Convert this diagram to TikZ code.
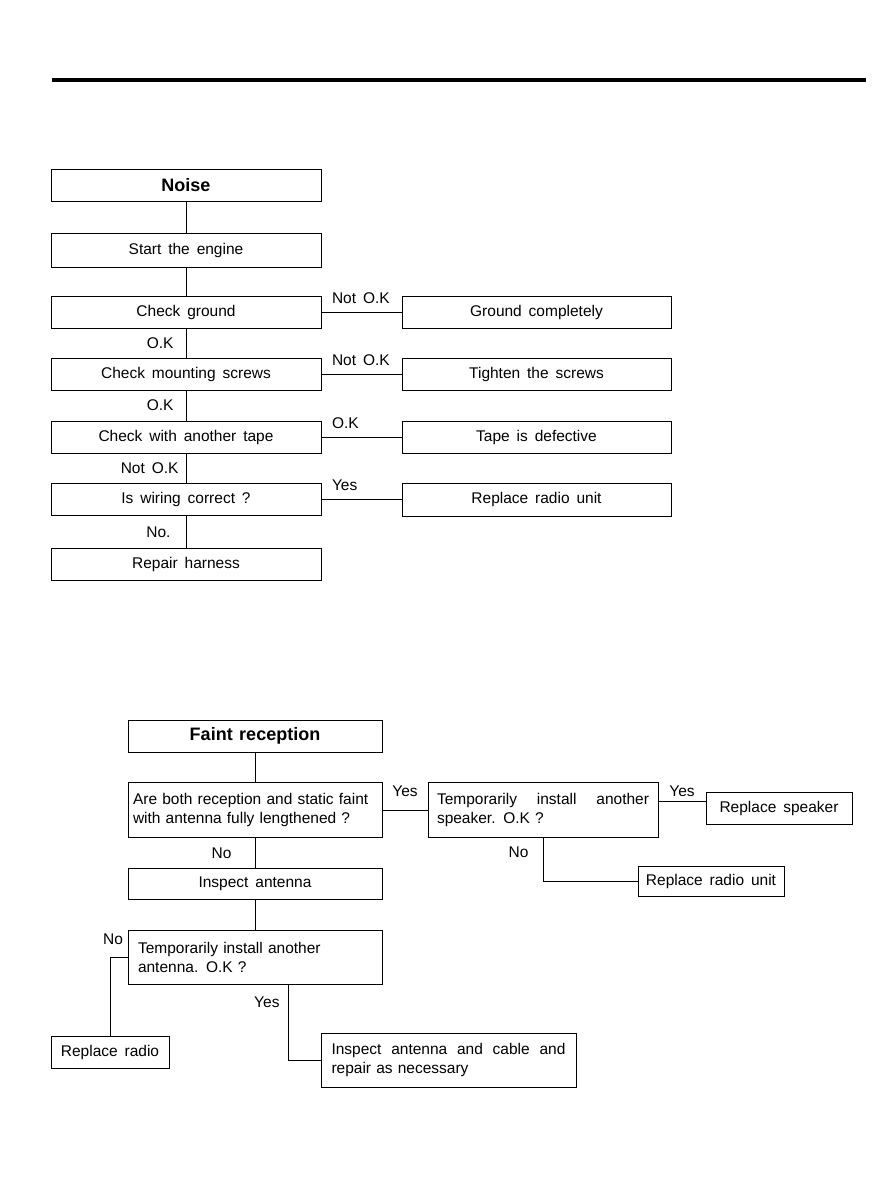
\documentclass[tikz,border=0pt]{standalone}
\usepackage{fontspec}
\setmainfont{Liberation Sans}[WordSpace=1.6]
\newfontfamily\titlefont{Liberation Sans}[WordSpace=1.3]
\usetikzlibrary{positioning}

\begin{document}
\begin{tikzpicture}[x=1pt, y=-1pt,
  every node/.style={font=\fontsize{15.5}{19}\selectfont},
  box/.style  ={draw, line width=1pt, inner sep=0pt, minimum height=32pt},
  nbox/.style ={box, minimum width=270pt},
  rbox/.style ={box, minimum width=269pt},
  fbox/.style ={box, minimum width=254pt},
  title/.style={font=\titlefont\bfseries\fontsize{18}{22}\selectfont},
  ln/.style   ={line width=1pt},
  lbl/.style  ={inner sep=2pt},
  hl/.style   ={lbl, pos=0, anchor=south west, xshift=8pt, yshift=6pt},
]
\useasboundingbox (0,0) rectangle (878,1200);

%% ─── Header rule ─────────────────────────────────────────────────────────────
\draw[line width=4pt] (52,80) -- (866,80);

%% ─── Noise ───────────────────────────────────────────────────────────────────
\node[nbox, title] (noise) at (186,185.5) {Noise};
\node[nbox, minimum height=34pt] (engine) at (186,250) {Start the engine};
\node[nbox] (ground)  at (186,312) {Check ground};
\node[nbox] (screws)  at (186,374) {Check mounting screws};
\node[nbox] (tape)    at (186,437) {Check with another tape};
\node[nbox] (wiring)  at (186,499.5) {Is wiring correct ?};
\node[nbox] (harness) at (186,564) {Repair harness};

% right-hand remedies
\node[rbox] (groundfix) at (536.5,312)   {Ground completely};
\node[rbox] (tighten)   at (536.5,374)   {Tighten the screws};
\node[rbox] (tapebad)   at (536.5,437)   {Tape is defective};
\node[rbox, minimum height=33pt] (unitA) at (536.5,499.5) {Replace radio unit};

\draw[ln] (noise) -- (engine);
\draw[ln] (engine) -- (ground);
\draw[ln] (ground) -- (screws) node[lbl, midway, left=10pt] (okA) {O.K};
\draw[ln] (screws) -- (tape)   node[lbl, midway, left=10pt] (okB) {O.K};
\draw[ln] (tape) -- (wiring)   node[lbl, midway, left=5pt]  (nokC) {Not O.K};
\draw[ln] (wiring) -- (harness) node[lbl, midway, left=13pt] (noD) {No.};

\draw[ln] (ground) -- (groundfix) node[hl] (nokA) {Not O.K};
\draw[ln] (screws) -- (tighten)   node[hl] (nokB) {Not O.K};
\draw[ln] (tape) -- (tapebad)     node[hl] (okC)  {O.K};
\draw[ln] (wiring) -- (unitA)     node[hl] (yesD) {Yes};

%% ─── Faint reception ─────────────────────────────────────────────────────────
\node[fbox, title] (faint) at (255,736) {Faint reception};
\node[fbox, minimum height=55pt, text width=244pt, inner xsep=5pt, align=left]
  (both) at (255,810) {Are both reception and static faint\\with antenna fully lengthened ?};
\node[fbox, minimum height=31pt] (antenna) at (255,883.5) {Inspect antenna};
\node[fbox, minimum height=54pt, text width=234pt, inner xsep=10pt, align=left]
  (spare) at (255,957) {Temporarily install another\\antenna. O.K ?};

\node[box, minimum height=55pt, text width=212pt, inner xsep=9pt, align=left]
  (speaker) at (543,810) {Temporarily\hfill install\hfill another\\speaker. O.K ?};
\node[box, minimum width=146pt] (newspk) at (779,808.5) {Replace speaker};
\node[box, minimum width=146pt, minimum height=30pt] (unitB) at (711,881) {Replace radio unit};

\node[box, minimum width=118pt] (radio) at (110,1052) {Replace radio};
\node[box, minimum height=54pt, text width=234pt, inner xsep=10.5pt, align=left]
  (cable) at (448.5,1060) {Inspect\hfill antenna\hfill and\hfill cable\hfill and\\repair as necessary};

\draw[ln] (faint) -- (both);
\draw[ln] (both) -- (speaker) node[lbl, midway, above=11pt] (yesE) {Yes};
\draw[ln] ([yshift=8.5pt]speaker.east) -- ([yshift=7pt]newspk.west)
  node[lbl, midway, above=2pt] (yesF) {Yes};
\draw[ln] (speaker.south) |- (unitB.west) node[lbl, pos=0.16, left=12pt] (noF) {No};
\draw[ln] (both) -- (antenna) node[lbl, midway, left=21pt] (noE) {No};
\draw[ln] (antenna) -- (spare);
\draw[ln] (spare.west) -| (radio.north)
  node[lbl, pos=0.5, above=10pt, xshift=3pt] (noG) {No};
\draw[ln] ([xshift=33pt]spare.south) |- (cable.west)
  node[lbl, pos=0.12, left=6pt] (yesG) {Yes};

\end{tikzpicture}
\end{document}
